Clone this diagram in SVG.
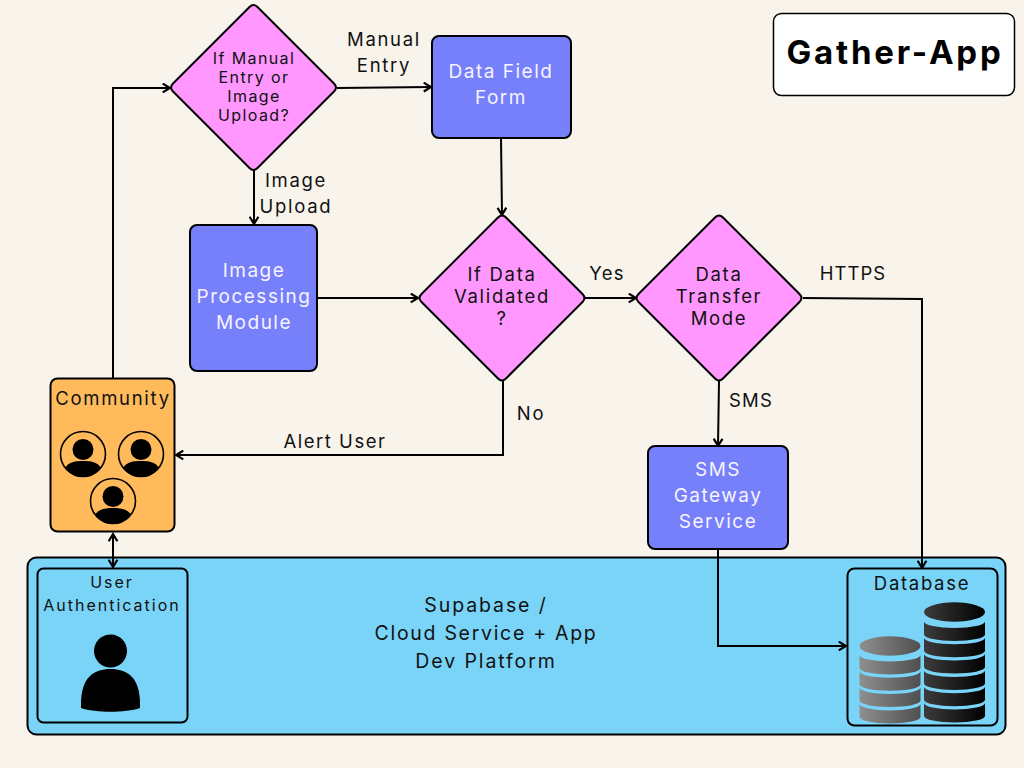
<svg xmlns="http://www.w3.org/2000/svg" width="1024" height="768" viewBox="0 0 1024 768">
<style>
text{font-family:"Inter","Liberation Sans",sans-serif;text-anchor:middle;fill:#111;font-size:18.500px;letter-spacing:1.700px}
.w{fill:#f6f3ff;font-size:19px;letter-spacing:1.500px}
.s{font-size:16px;letter-spacing:1.400px}
.p{font-size:19.500px;letter-spacing:1.900px}
.b{stroke:#000;stroke-width:2}
.blue{fill:#7780fb}
.dia{fill:#ff97fe;stroke:#000;stroke-width:2;stroke-linejoin:round}
.c{fill:none;stroke:#000;stroke-width:2;marker-end:url(#a)}
</style>
<defs>
<marker id="a" viewBox="0 0 10 10" refX="8.600" refY="5" markerWidth="5.500" markerHeight="5.500" orient="auto-start-reverse"><path d="M2 1L8.500 5L2 9" fill="none" stroke="#000" stroke-width="2"/></marker>
<linearGradient id="g1" x1="0" x2="1" y1="0" y2="0"><stop offset="0" stop-color="#8f8f8f"/><stop offset="1" stop-color="#4f4f4f"/></linearGradient>
<linearGradient id="g2" x1="0" x2="1" y1="0" y2="0"><stop offset="0" stop-color="#3c3c3c"/><stop offset="1" stop-color="#000"/></linearGradient>
<path id="diamond" d="M-4-80.500Q0-84.500 4-80.500L80.500-4Q84.500 0 80.500 4L4 80.500Q0 84.500-4 80.500L-80.500 4Q-84.500 0-80.500-4Z"/>
<path id="band" d="M0 0A30.500 6.500 0 0 0 61 0V13A30.500 6.500 0 0 1 0 13Z"/>
<ellipse id="lid" cx="30.500" cy="0" rx="30.500" ry="9.700"/>
<g id="person"><circle cx="0" cy="0" r="22.500" fill="none" stroke="#000" stroke-width="1.600"/><circle cx="0" cy="-4.500" r="10.500" fill="#000"/><path d="M-18 13.500C-14 8-8 7 0 7S14 8 18 13.500C13 20 7 23 0 23S-13 20-18 13.500Z" fill="#000"/></g>
</defs>
<rect width="1024" height="768" fill="#f8f4ec"/>
<g id="platform"><rect x="27.500" y="557.500" width="978" height="177" rx="9" fill="#7ad4f8" class="b"/>
<text class="p" x="486" y="612">Supabase /</text><text class="p" x="486" y="640" style="letter-spacing:1.700px">Cloud Service + App</text><text class="p" x="486" y="668">Dev Platform</text></g>
<g id="connectors">
<path class="c" d="M113 378V88H170"/>
<path class="c" d="M337 88L431 87"/>
<path class="c" d="M254 170V224"/>
<path class="c" d="M501 138L502 215"/>
<path class="c" d="M317 298H418"/>
<path class="c" d="M585 298H636"/>
<path class="c" d="M803 298L922 299V568"/>
<path class="c" d="M719 381L718 446"/>
<path class="c" d="M503 381V455H176"/>
<path class="c" d="M718 549V646H846"/>
<path class="c" d="M113 534V567" style="marker-start:url(#a)"/>
</g>
<g id="manual-or-upload"><use href="#diamond" class="dia" x="253.500" y="87.500"/>
<text class="s" x="254" y="64">If Manual</text><text class="s" x="254" y="83">Entry or</text><text class="s" x="254" y="102">Image</text><text class="s" x="254" y="121">Upload?</text></g>
<g id="data-field-form"><rect x="432" y="36" width="139" height="102" rx="7" class="blue b"/><text class="w" x="501" y="78">Data Field</text><text class="w" x="501" y="104">Form</text></g>
<g id="image-processing"><rect x="190" y="225" width="127" height="146" rx="7" class="blue b"/><text class="w" x="254" y="277">Image</text><text class="w" x="254" y="303">Processing</text><text class="w" x="254" y="329">Module</text></g>
<g id="data-validated"><use href="#diamond" class="dia" x="502" y="298"/>
<text x="502" y="281">If Data</text><text x="502" y="303">Validated</text><text x="502" y="325">?</text></g>
<g id="transfer-mode"><use href="#diamond" class="dia" x="719" y="298"/>
<text x="719" y="281">Data</text><text x="719" y="303">Transfer</text><text x="719" y="325">Mode</text></g>
<g id="sms-gateway"><rect x="648" y="446" width="140" height="103" rx="7" class="blue b"/><text class="w" x="718" y="476">SMS</text><text class="w" x="718" y="502">Gateway</text><text class="w" x="718" y="528">Service</text></g>
<g id="community"><rect x="50.500" y="378.500" width="124" height="153" rx="7" fill="#ffbb5b" class="b"/><text x="113" y="405">Community</text>
<use href="#person" x="83" y="454"/><use href="#person" x="141" y="454"/><use href="#person" x="113" y="501"/></g>
<g id="user-auth"><rect x="37.500" y="568.500" width="150" height="154" rx="6" fill="#7ad4f8" class="b"/><text class="s" x="112" y="588" style="letter-spacing:2px">User</text><text class="s" x="112" y="611" style="letter-spacing:2px">Authentication</text>
<circle cx="110.500" cy="651" r="16.500" fill="#000"/><path d="M81 704C81 677 94 669 110.500 669S140 677 140 704V708C125 713 96 713 81 708Z" fill="#000"/></g>
<g id="database"><rect x="847.500" y="568.500" width="150" height="157" rx="7" fill="#7ad4f8" class="b"/><text x="922" y="590">Database</text>
<g fill="url(#g1)"><use href="#lid" x="859.500" y="646"/><use href="#band" x="859.500" y="655"/><use href="#band" x="859.500" y="671.300"/><use href="#band" x="859.500" y="687.600"/><use href="#band" x="859.500" y="703.900"/></g>
<g fill="url(#g2)"><use href="#lid" x="924" y="612"/><use href="#band" x="924" y="621.500"/><use href="#band" x="924" y="637.800"/><use href="#band" x="924" y="654.100"/><use href="#band" x="924" y="670.400"/><use href="#band" x="924" y="686.700"/><use href="#band" x="924" y="703"/></g></g>
<g id="title"><rect x="773.500" y="13.500" width="241" height="82" rx="8" fill="#fff" stroke="#000" stroke-width="1.500"/><text x="895" y="64" style="font-size:33px;font-weight:700;letter-spacing:2.800px;fill:#000">Gather-App</text></g>
<g id="labels">
<text x="384" y="46">Manual</text><text x="384" y="72">Entry</text>
<text x="296" y="187">Image</text><text x="296" y="213">Upload</text>
<text x="607" y="280" style="letter-spacing:1.200px">Yes</text><text x="853" y="280" style="letter-spacing:1px">HTTPS</text><text x="751" y="407" style="letter-spacing:1.200px">SMS</text><text x="531" y="420">No</text><text x="335" y="448" style="letter-spacing:1.500px">Alert User</text>
</g>
</svg>
